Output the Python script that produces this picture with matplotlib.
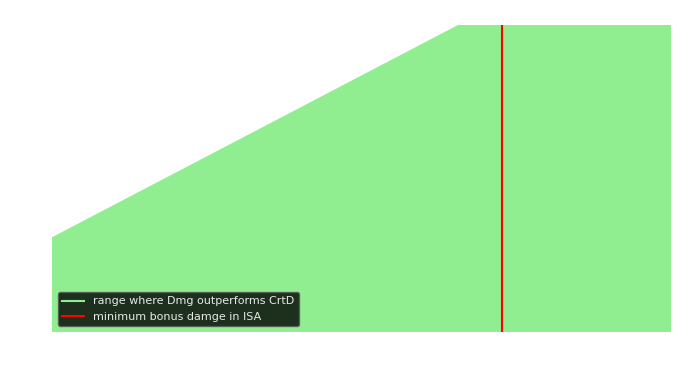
import matplotlib
matplotlib.use('Agg')
import matplotlib.pyplot as plt

# bonus range (x) and the upper edge of the region where Dmg beats CrtD
bonus = [0, 100]
upper = [30.6, 136.0]
isa_min = 72.7

fig = plt.figure(figsize=(6.89, 3.72), dpi=100)
ax = fig.add_axes([0.0755, 0.1075, 0.8985, 0.8255])

ax.fill_between(bonus, 0, upper, color='lightgreen')
ax.plot([], [], color='lightgreen', label='range where Dmg outperforms CrtD')
ax.axvline(isa_min, color='red', label='minimum bonus damge in ISA')

ax.set_xlim(0, 100)
ax.set_ylim(0, 100)
ax.axis('off')

leg = ax.legend(loc='lower left', fontsize=8, facecolor='black', framealpha=0.8,
                edgecolor='#555555')
for t in leg.get_texts():
    t.set_color('#e8e8e8')

fig.savefig('out.png', dpi=100)
